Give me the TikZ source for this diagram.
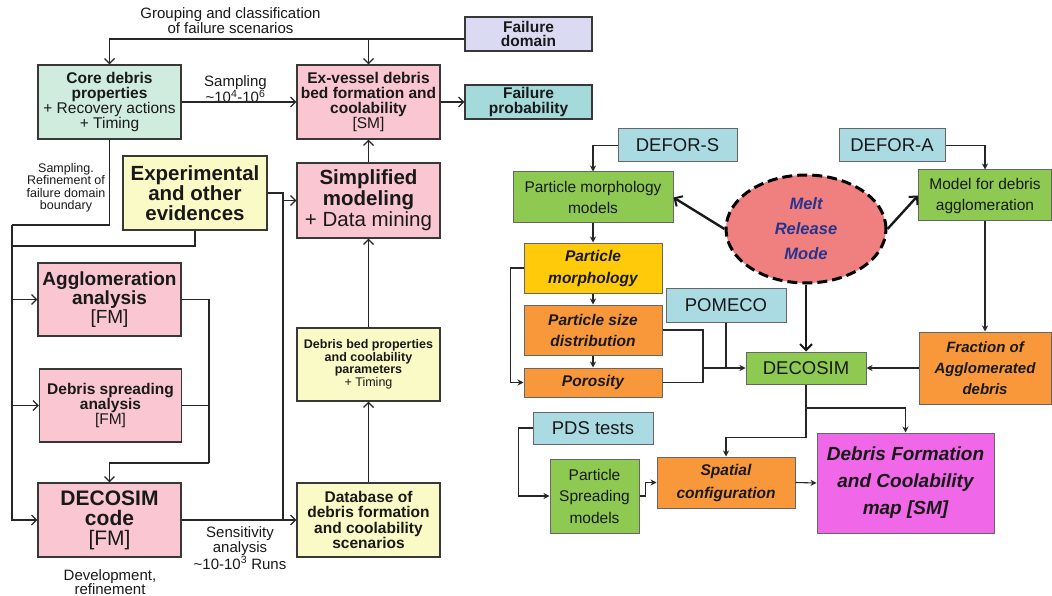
\documentclass[tikz,border=0pt]{standalone}
\usepackage{fontspec}
\setmainfont{Liberation Sans}
\usetikzlibrary{arrows.meta,shapes.geometric}

\definecolor{mint}{RGB}{208,236,222}
\definecolor{rose}{RGB}{249,198,210}
\definecolor{lavender}{RGB}{218,218,242}
\definecolor{tealbox}{RGB}{164,218,218}
\definecolor{cream}{RGB}{250,250,198}
\definecolor{skycyan}{RGB}{170,218,226}
\definecolor{leaf}{RGB}{142,202,82}
\definecolor{gold}{RGB}{255,202,10}
\definecolor{tangerine}{RGB}{248,152,58}
\definecolor{orchid}{RGB}{240,104,232}
\definecolor{salmon}{RGB}{240,128,128}
\definecolor{inkblue}{RGB}{40,52,140}

\newcommand\fs[2]{\fontsize{#1}{#2}\selectfont}

\tikzset{
  lbox/.style={draw=black!78, line width=1.3pt, inner sep=0pt, align=center, text=black!90},
  rbox/.style={draw=black!60, line width=1pt, inner sep=0pt, align=center, text=black!90},
  arr/.style={draw=black!85, line width=1.3pt, -{Straight Barb[length=5pt,width=10pt,line width=1.2pt]}},
  wire/.style={draw=black!85, line width=1.3pt},
  rarr/.style={draw=black!85, line width=1.1pt, -{Stealth[length=6pt,width=6pt]}},
  rwire/.style={draw=black!85, line width=1.1pt},
  bigarr/.style={draw=black!90, line width=2.4pt, -{Straight Barb[length=6pt,width=12pt,line width=2pt]}},
  note/.style={align=center, inner sep=0pt, text=black!90}
}

\begin{document}
\begin{tikzpicture}[x=1pt,y=-1pt]
\fill[white] (0,0) rectangle (1052,596);
\useasboundingbox (0,0) rectangle (1052,596);

% ---------- left flow: probabilistic framework ----------
\node[lbox, fill=mint, minimum width=143pt, minimum height=74pt, font=\fs{15.5}{15}] (core) at (109.5,102)
  {\textbf{Core debris}\\\textbf{properties}\\+ Recovery actions\\+ Timing};
\node[lbox, fill=rose, minimum width=143pt, minimum height=74pt, font=\fs{15.5}{15}] (ex) at (368.5,102)
  {\textbf{Ex-vessel debris}\\\textbf{bed formation and}\\\textbf{coolability}\\{}[SM]};
\node[lbox, fill=lavender, minimum width=127pt, minimum height=34pt, font=\fs{15.5}{14.5}\bfseries] (fd) at (528.5,34)
  {Failure\\domain};
\node[lbox, fill=tealbox, minimum width=127pt, minimum height=34pt, font=\fs{15.5}{14.5}\bfseries] (fp) at (528.5,102)
  {Failure\\probability};
\node[lbox, fill=cream, minimum width=144pt, minimum height=74pt, font=\fs{20.5}{20}\bfseries] (exp) at (195,193)
  {Experimental\\and other\\evidences};
\node[lbox, fill=rose, minimum width=143pt, minimum height=75pt, font=\fs{20.5}{21}] (simp) at (368.5,200.5)
  {\textbf{Simplified}\\\textbf{modeling}\\+ Data mining};
\node[lbox, fill=rose, minimum width=143pt, minimum height=73pt, font=\fs{19}{19}] (agg) at (109.5,299.5)
  {\textbf{Agglomeration}\\\textbf{analysis}\\{}[FM]};
\node[lbox, fill=rose, minimum width=142pt, minimum height=73pt, font=\fs{15.5}{15}] (spread) at (110.5,405.5)
  {\textbf{Debris spreading}\\\textbf{analysis}\\{}[FM]};
\node[lbox, fill=rose, minimum width=143pt, minimum height=74pt, font=\fs{21}{20}] (deco) at (109.5,520)
  {\textbf{DECOSIM}\\\textbf{code}\\{}[FM]};
\node[lbox, fill=cream, minimum width=143pt, minimum height=73pt, font=\fs{12.5}{12.5}] (bed) at (368.5,364.5)
  {\textbf{Debris bed properties}\\\textbf{and coolability}\\\textbf{parameters}\\+ Timing};
\node[lbox, fill=cream, minimum width=143pt, minimum height=74pt, font=\fs{15.5}{15.5}\bfseries] (db) at (368.5,520)
  {Database of\\debris formation\\and coolability\\scenarios};

% free labels
\node[note, font=\fs{15}{15}] (lgroup) at (230.5,21) {Grouping and classification\\of failure scenarios};
\node[note, font=\fs{15}{13.5}] (lsamp) at (235.5,89) {Sampling\\\textasciitilde10\textsuperscript{4}-10\textsuperscript{6}};
\node[note, font=\fs{12.5}{12.5}] (lrefine) at (66,188) {Sampling.\\Refinement of\\failure domain\\boundary};
\node[note, font=\fs{15}{15}] (lsens) at (240,548) {Sensitivity\\analysis\\\textasciitilde10-10\textsuperscript{3} Runs};
\node[note, font=\fs{15}{14}] (ldev) at (110,582) {Development,\\refinement};

% junction points
\coordinate (fdout) at ([yshift=-5pt]fd.west);
\coordinate (trunk) at (12,225);
\coordinate (expj) at (12,246);
\coordinate (bus) at (283,193);
\coordinate (mj) at (209,463);

% connectors
\draw[arr] (fdout) -| (core.north);
\draw[arr] (fdout -| ex.north) -- (ex.north);
\draw[arr] (core.east) -- (ex.west);
\draw[arr] (ex.east) -- (fp.west);
\draw[arr] (simp.north) -- (ex.south);
\draw[arr] (bed.north) -- (simp.south);
\draw[arr] (db.north) -- (bed.south);
\draw[arr] (deco.east) -- (db.west);

\draw[wire] (core.south) |- (trunk);
\draw[arr] (trunk) |- (deco.west);
\draw[arr] (trunk |- agg.west) -- (agg.west);
\draw[arr] (trunk |- spread.west) -- (spread.west);
\draw[wire] (exp.south) |- (expj);

\draw[wire] (exp.east) -- (bus) -- (bus |- db.west);
\draw[arr] (bus |- simp.west) -- (simp.west);

\draw[wire] (agg.east) -| (mj);
\draw[wire] (spread.east) -- (spread.east -| mj);
\draw[arr] (mj) -| (deco.north);

% ---------- right flow: DECOSIM modelling chain ----------
\node[rbox, fill=skycyan, minimum width=119pt, minimum height=33pt, font=\fs{18.5}{20}] (defors) at (677.5,145.5) {DEFOR-S};
\node[rbox, fill=leaf, minimum width=160pt, minimum height=51pt, font=\fs{15.5}{21}] (pmm) at (593,197.5)
  {Particle morphology\\models};
\node[rbox, fill=gold, minimum width=138pt, minimum height=50pt, font=\fs{15.5}{22}\bfseries\itshape] (pm) at (593,268)
  {Particle\\morphology};
\node[rbox, fill=tangerine, minimum width=138pt, minimum height=50pt, font=\fs{15.5}{21}\bfseries\itshape] (psd) at (593,330)
  {Particle size\\distribution};
\node[rbox, fill=tangerine, minimum width=138pt, minimum height=29pt, font=\fs{15.5}{21}\bfseries\itshape] (por) at (593,382.5)
  {Porosity};
\node[rbox, fill=skycyan, minimum width=120pt, minimum height=34pt, font=\fs{18.5}{20}] (pomeco) at (726,305) {POMECO};
\node[rbox, fill=leaf, minimum width=120pt, minimum height=32pt, font=\fs{18.5}{20}] (decor) at (806,368) {DECOSIM};
\node[ellipse, draw=black, fill=salmon, line width=3pt, dash pattern=on 10pt off 5pt,
      minimum width=160pt, minimum height=108pt, inner sep=0pt, align=center,
      font=\fs{16.5}{25}\bfseries\itshape, text=inkblue] (melt) at (806,229)
  {Melt\\Release\\Mode};
\node[rbox, fill=skycyan, minimum width=106pt, minimum height=33pt, font=\fs{18.5}{20}] (defora) at (892,145.5) {DEFOR-A};
\node[rbox, fill=leaf, minimum width=133pt, minimum height=51pt, font=\fs{15.5}{21}] (mda) at (985,195.5)
  {Model for debris\\agglomeration};
\node[rbox, fill=tangerine, minimum width=132pt, minimum height=72pt, font=\fs{15}{21}\bfseries\itshape] (frac) at (985,368)
  {Fraction of\\Agglomerated\\debris};
\node[rbox, fill=skycyan, minimum width=120pt, minimum height=32pt, font=\fs{18.5}{20}] (pds) at (593,428) {PDS tests};
\node[rbox, fill=leaf, minimum width=89pt, minimum height=74pt, font=\fs{15.5}{21.5}] (psm) at (594.5,496)
  {Particle\\Spreading\\models};
\node[rbox, fill=tangerine, minimum width=138pt, minimum height=51pt, font=\fs{15.5}{23}\bfseries\itshape] (spat) at (726,482.5)
  {Spatial\\configuration};
\node[rbox, fill=orchid, minimum width=177pt, minimum height=100pt, font=\fs{19}{27}\bfseries\itshape] (dfcm) at (905.5,483)
  {Debris Formation\\and Coolability\\map [SM]};

\coordinate (pj) at (703,368);
\coordinate (dsplit) at (806,408);

\draw[rarr] (defors.west) -| (pmm.north);
\draw[rarr] (pmm.south) -- (pm.north);
\draw[rarr] (pm.south) -- (psd.north);
\draw[rarr] (psd.south) -- (por.north);
\draw[rarr] (pm.west) -- ++(-13,0) |- (por.west);
\draw[rwire] (psd.east) -| (pj);
\draw[rwire] (por.east) -| (pj);
\draw[rarr] (pj) -- (decor.west);
\draw[rwire] (pomeco.south) -- (pomeco.south |- decor.west);

\draw[bigarr] (melt.west) -- (pmm.east);
\draw[bigarr] (melt.east) -- (mda.west);
\draw[bigarr] (melt.south) -- (decor.north);

\draw[rarr] (defora.east) -| (mda.north);
\draw[rarr] (mda.south) -- (frac.north);
\draw[rarr] (frac.west) -- (decor.east);

\draw[rarr] (decor.south) -- ++(0,53) -| (spat.north);
\draw[rarr] (dsplit) -| (dfcm.north);

\draw[rarr] (pds.west) -- ++(-14,0) |- (psm.west);
\draw[rarr] (psm.east) -- ++(6,0) |- (spat.west);
\draw[rarr] (spat.east) -- (dfcm.west);

\end{tikzpicture}
\end{document}
